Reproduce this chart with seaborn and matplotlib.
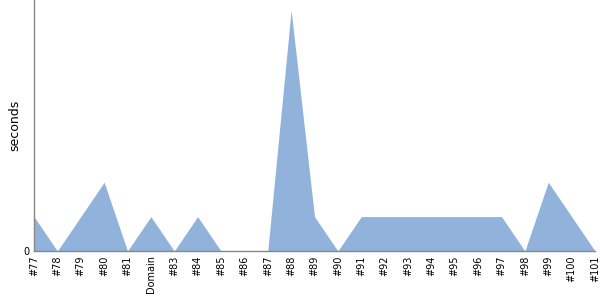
import matplotlib
matplotlib.use("Agg")
import matplotlib.pyplot as plt
import seaborn as sns
import pandas as pd

labels = ["#77", "#78", "#79", "#80", "#81", "Domain", "#83", "#84", "#85", "#86",
          "#87", "#88", "#89", "#90", "#91", "#92", "#93", "#94", "#95", "#96",
          "#97", "#98", "#99", "#100", "#101"]
seconds = [1, 0, 1, 2, 0, 1, 0, 1, 0, 0,
           0, 7, 1, 0, 1, 1, 1, 1, 1, 1,
           1, 0, 2, 1, 0]

df = pd.DataFrame({"idx": range(len(labels)), "label": labels, "seconds": seconds})

sns.set_style("white")
plt.rcParams['font.family'] = ['DejaVu Sans']
fig = plt.figure(figsize=(6, 3), dpi=100)
ax = fig.add_axes([34/600, 1 - 251/300, (595 - 34)/600, 251/300])

color = "#90b2db"
sns.lineplot(data=df, x="idx", y="seconds", ax=ax, color=color, linewidth=0)
ax.fill_between(df["idx"], 0, df["seconds"], color=color, linewidth=0)

ax.set_xlim(0, len(labels) - 1)
ax.set_ylim(0, 7.3)
ax.set_xticks(df["idx"])
ax.set_xticklabels(labels, rotation=90, fontsize=7, color="black")
ax.set_yticks([0])
ax.set_yticklabels(["0"], fontsize=7, color="black")
ax.tick_params(axis="both", length=0, pad=3)
ax.set_xlabel("")
ax.set_ylabel("seconds", fontsize=9, labelpad=2, color="black")

for s in ["top", "right"]:
    ax.spines[s].set_visible(False)
for s in ["left", "bottom"]:
    ax.spines[s].set_color("#888888")
    ax.spines[s].set_linewidth(1)

fig.savefig("out.png", dpi=100)
